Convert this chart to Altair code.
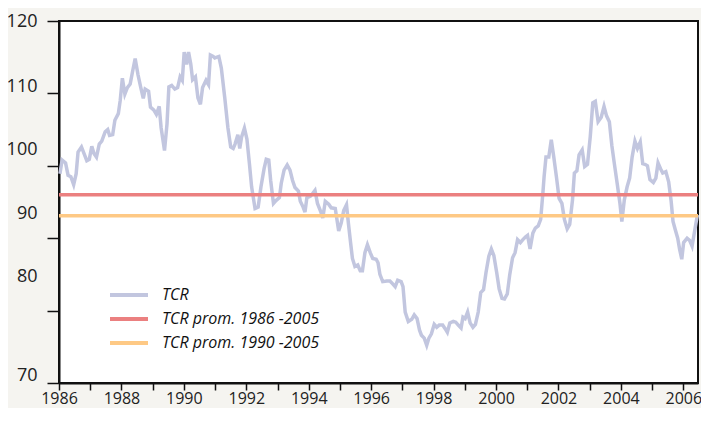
import altair as alt
import pandas as pd

# TCR series: (year fraction, index value)
years = [1986.03,1986.10,1986.21,1986.29,1986.38,1986.47,1986.55,1986.61,1986.72,1986.89,1986.97,
         1987.05,1987.12,1987.20,1987.29,1987.37,1987.48,1987.56,1987.62,1987.72,1987.79,1987.90,1987.96,
         1988.03,1988.11,1988.19,1988.28,1988.36,1988.44,1988.53,1988.62,1988.70,1988.76,1988.87,1988.93,
         1989.04,1989.12,1989.21,1989.27,1989.38,1989.46,1989.52,1989.61,1989.71,1989.80,1989.88,1989.95,
         1990.01,1990.09,1990.15,1990.22,1990.28,1990.37,1990.45,1990.53,1990.60,1990.71,1990.79,1990.85,1990.94,1990.99,
         1991.12,1991.20,1991.31,1991.41,1991.50,1991.58,1991.64,1991.73,1991.79,1991.85,1991.94,
         1992.02,1992.10,1992.17,1992.28,1992.38,1992.47,1992.57,1992.64,1992.72,1992.78,1992.87,1992.95,
         1993.06,1993.12,1993.21,1993.31,1993.40,1993.48,1993.56,1993.67,1993.73,1993.82,1993.88,1993.94,
         1994.05,1994.13,1994.20,1994.28,1994.39,1994.45,1994.53,1994.64,1994.72,1994.85,1994.96,
         1995.04,1995.12,1995.21,1995.27,1995.34,1995.40,1995.48,1995.57,1995.65,1995.72,1995.80,1995.88,1995.97,
         1996.05,1996.16,1996.22,1996.28,1996.37,1996.50,1996.60,1996.69,1996.77,1996.85,1996.96,
         1997.02,1997.09,1997.19,1997.30,1997.38,1997.47,1997.55,1997.61,1997.70,1997.78,1997.85,1997.93,
         1998.02,1998.10,1998.18,1998.29,1998.37,1998.44,1998.52,1998.63,1998.71,1998.79,1998.88,1998.94,
         1999.01,1999.09,1999.17,1999.26,1999.34,1999.43,1999.51,1999.60,1999.68,1999.77,1999.85,1999.93,
         2000.02,2000.10,2000.19,2000.27,2000.36,2000.44,2000.53,2000.61,2000.69,2000.78,2000.86,2000.95,
         2001.01,2001.09,2001.18,2001.26,2001.35,2001.43,2001.50,2001.54,2001.60,2001.69,2001.77,2001.85,2001.94,
         2002.02,2002.11,2002.19,2002.28,2002.36,2002.45,2002.51,2002.59,2002.66,2002.76,2002.84,2002.93,
         2003.02,2003.10,2003.18,2003.27,2003.37,2003.46,2003.54,2003.63,2003.71,2003.79,2003.88,2003.97,
         2004.03,2004.11,2004.20,2004.28,2004.36,2004.45,2004.53,2004.62,2004.70,2004.77,2004.85,2004.93,
         2005.04,2005.12,2005.19,2005.27,2005.34,2005.44,2005.53,2005.61,2005.67,2005.74,2005.82,2005.88,2005.95,
         2006.01,2006.12,2006.20,2006.28,2006.37,2006.45]
tcr = [98.9,100.8,100.4,98.7,98.5,97.4,98.9,101.9,102.6,100.7,100.9,
       102.7,101.7,101.2,103.0,103.4,104.7,105.0,104.2,104.3,106.3,107.2,109.0,
       112.1,109.9,110.8,111.3,113.1,114.8,112.6,110.8,109.3,110.6,110.3,108.1,
       107.7,107.1,108.2,105.3,102.1,105.8,110.9,111.1,110.6,110.8,112.3,111.8,
       115.7,114.0,115.7,114.1,111.9,112.3,109.4,108.5,110.8,111.8,111.2,115.3,115.1,114.9,
       115.1,113.5,109.4,105.3,102.6,102.4,103.0,104.3,102.4,104.0,105.2,
       103.7,100.3,97.1,94.1,94.3,97.1,99.6,100.9,100.8,98.0,94.8,95.2,
       95.6,97.6,99.4,100.1,99.4,98.0,97.0,96.5,95.1,94.3,93.6,95.6,
       95.8,96.2,96.6,94.8,93.6,92.8,95.1,94.7,94.2,94.1,91.0,
       92.1,93.8,94.6,92.1,89.4,87.2,86.1,86.3,85.5,85.5,88.0,89.1,88.0,
       87.2,87.1,86.6,85.0,84.0,84.1,84.1,83.7,83.3,84.2,84.0,
       83.3,79.8,78.5,78.8,79.4,78.9,77.3,76.6,76.2,75.2,76.2,76.8,
       78.1,77.7,78.0,78.0,77.5,77.0,78.3,78.5,78.4,78.0,77.6,79.1,
       78.9,79.8,78.3,77.7,78.1,79.8,82.5,82.9,85.3,87.5,88.5,87.6,
       85.3,83.0,81.7,81.6,82.3,85.0,87.3,88.0,89.8,89.4,89.8,90.2,
       90.4,88.5,90.7,91.4,91.7,92.6,96.2,98.5,101.2,101.2,103.6,101.2,98.3,
       95.5,94.8,92.6,91.3,91.9,95.3,99.0,99.3,101.5,102.2,99.9,100.2,
       104.1,108.7,108.9,106.1,106.7,108.2,106.9,106.1,102.8,100.3,97.6,94.8,
       92.3,95.3,97.1,98.3,101.2,103.4,102.4,103.3,100.3,100.2,100.0,98.1,
       97.7,98.3,100.4,99.6,99.0,99.2,97.8,95.1,92.3,91.2,90.0,88.5,87.1,
       89.4,90.0,89.7,88.9,91.2,93.2]

series_names = ["TCR", "TCR prom. 1986 -2005", "TCR prom. 1990 -2005"]
averages = [96.0, 93.1]
series_colors = ["#c2c6df", "#eb8080", "#fec985"]

y_ticks = [70, 80, 90, 100, 110, 120]
x_ticks = list(range(1986, 2007))

line_df = pd.DataFrame({"year": years, "value": tcr, "serie": series_names[0]})
avg_df = pd.DataFrame({"value": averages, "serie": series_names[1:]})

FONT = "Open Sans"

color = alt.Color(
    "serie:N",
    scale=alt.Scale(domain=series_names, range=series_colors),
    legend=alt.Legend(
        title=None, orient="none", legendX=49, legendY=263,
        symbolType="stroke", symbolSize=1444, symbolStrokeWidth=4,
        labelFont=FONT, labelFontSize=16, labelFontStyle="italic", labelColor="#111",
        labelOffset=12, clipHeight=22, rowPadding=2, padding=0, labelLimit=400,
    ),
)

y_enc = alt.Y(
    "value:Q",
    scale=alt.Scale(domain=[70, 120], nice=False, zero=False),
    axis=alt.Axis(
        title=None, values=y_ticks, grid=False, tickSize=12, tickWidth=1.5, tickColor="#111",
        domainColor="#111", domainWidth=2, labelFont=FONT, labelFontSize=18, labelColor="#222",
        labelPadding=10,
        labelOffset={"condition": [
            {"test": "datum.value == 110", "value": -7},
            {"test": "datum.value == 100", "value": -16},
            {"test": "datum.value == 90", "value": -25},
            {"test": "datum.value == 80", "value": -34},
            {"test": "datum.value == 70", "value": -8},
        ], "value": 0},
    ),
)

line = alt.Chart(line_df).mark_line(strokeWidth=3.5, strokeJoin="miter").encode(
    x=alt.X("year:Q",
            scale=alt.Scale(domain=[1986, 2006.47], nice=False, zero=False),
            axis=alt.Axis(title=None, values=x_ticks, grid=False, format="d",
                          labelExpr="datum.value % 2 == 0 ? format(datum.value, 'd') : ''",
                          tickSize=7, tickWidth=1.5, tickColor="#111", domainColor="#111",
                          domainWidth=2, labelFont=FONT, labelFontSize=16, labelColor="#222",
                          labelPadding=0, labelFlush=False, labelOverlap=False)),
    y=y_enc,
    color=color,
)

rules = alt.Chart(avg_df).mark_rule(strokeWidth=3.5).encode(
    y=alt.Y("value:Q"),
    color=alt.Color("serie:N"),
)

chart = alt.layer(line, rules).properties(
    width=639, height=362,
    background="#f5f4f0",
    padding={"left": 51, "top": 13, "right": 3, "bottom": 25},
    autosize=alt.AutoSizeParams(type="none"),
).configure_view(fill="white", stroke="#111", strokeWidth=2)

chart.save("out.html", embed_options={"renderer": "svg", "actions": False})
